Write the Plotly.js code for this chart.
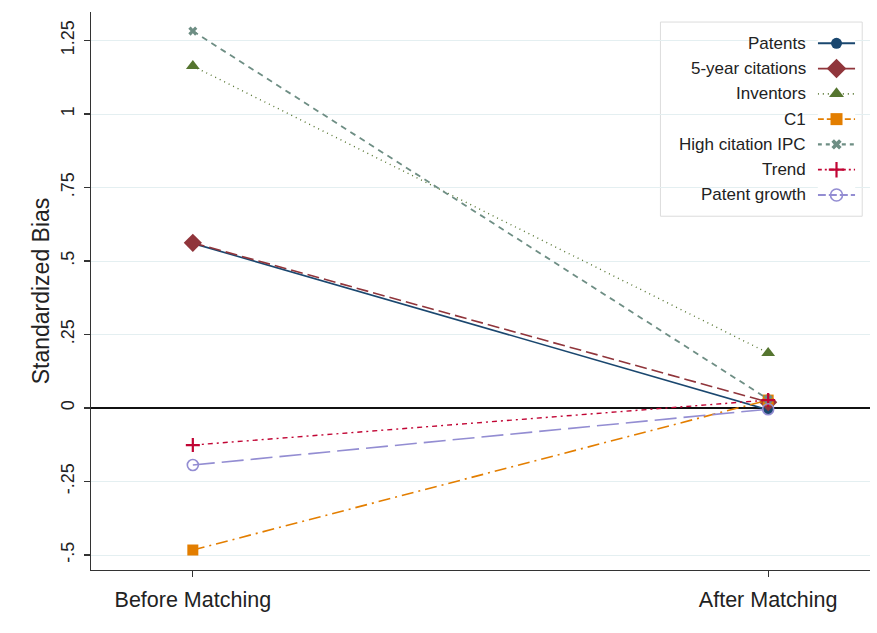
<!DOCTYPE html>
<html>
<head>
<meta charset="utf-8">
<script src="https://cdn.plot.ly/plotly-3.0.1.min.js"></script>
<style>html,body{margin:0;padding:0;background:#fff;}#chart{width:877px;height:633px;}</style>
</head>
<body>
<div id="chart"></div>
<script>
// ---- data ----
var categories = ["Before Matching", "After Matching"];
var seriesNames = ["Patents", "5-year citations", "Inventors", "C1", "High citation IPC", "Trend", "Patent growth"];
var patents = [0.56, -0.006];
var citations5 = [0.562, 0.02];
var inventors = [1.163, 0.187];
var c1 = [-0.483, 0.027];
var highCitationIPC = [1.282, 0.03];
var trend = [-0.126, 0.027];
var patentGrowth = [-0.194, -0.004];
var yTickVals = [-0.5, -0.25, 0, 0.25, 0.5, 0.75, 1, 1.25];
var yTickText = ["-.5", "-.25", "0", ".25", ".5", ".75", "1", "1.25"];

// ---- styles ----
var seriesValues = [patents, citations5, inventors, c1, highCitationIPC, trend, patentGrowth];
var styles = [
  {color: "#1a476f", dash: "solid", sym: "circle", size: 10, lw: 1.6},
  {color: "#90353b", dash: "12px,5px", sym: "diamond", size: 14, lw: 1.6},
  {color: "#55752f", dash: "1px,4px", sym: "triangle-up", size: 12, lw: 1.4},
  {color: "#e37e00", dash: "12px,5px,2px,5px", sym: "square", size: 11, lw: 1.6},
  {color: "#6e8e84", dash: "6px,5px", sym: "x", size: 8, lw: 1.8},
  {color: "#c10534", dash: "5px,4px,2px,4px", sym: "cross-thin-open", size: 10, lw: 1.4, mlw: 2.2},
  {color: "#938dd2", dash: "22px,7px", sym: "circle-open", size: 11, lw: 1.6, mlw: 1.6}
];
var legendDash = ["solid", "solid", "1px,4px", "6px,3px", "4px,4px", "4px,3px,2px,3px", "8px,3px"];

var traces = [];
seriesNames.forEach(function (name, i) {
  var s = styles[i];
  traces.push({
    type: "scatter", mode: "lines+markers", name: name,
    x: categories, y: seriesValues[i],
    line: {color: s.color, width: s.lw, dash: s.dash},
    marker: {color: s.color, symbol: s.sym, size: s.size, line: {color: s.color, width: s.mlw || 0}},
    showlegend: false, cliponaxis: false
  });
});

// custom legend (symbol to the right of right-aligned text, Stata style)
var annotations = [];
seriesNames.forEach(function (name, i) {
  var s = styles[i];
  traces.push({
    type: "scatter", mode: "lines", xaxis: "x2", yaxis: "y2",
    x: [0, 1], y: [i, i], hoverinfo: "skip", showlegend: false,
    line: {color: s.color, width: s.lw + 0.3, dash: legendDash[i]}, cliponaxis: false
  });
  traces.push({
    type: "scatter", mode: "markers", xaxis: "x2", yaxis: "y2",
    x: [0.5], y: [i], hoverinfo: "skip", showlegend: false,
    marker: {color: s.color, symbol: s.sym, size: s.size + 1, line: {color: s.color, width: s.mlw || 0}},
    cliponaxis: false
  });
  annotations.push({
    xref: "paper", yref: "y2", x: 0.92, y: i, text: name, showarrow: false,
    xanchor: "right", yanchor: "middle",
    font: {family: "Liberation Sans, Arial, sans-serif", size: 17, color: "#222"}
  });
});

var layout = {
  width: 877, height: 633,
  margin: {l: 91, r: 7, t: 12, b: 63},
  paper_bgcolor: "#ffffff", plot_bgcolor: "#ffffff",
  font: {family: "Liberation Sans, Arial, sans-serif", color: "#222"},
  showlegend: false,
  xaxis: {
    type: "category", range: [-0.177, 1.177],
    showgrid: false, zeroline: false,
    showline: true, linecolor: "#333", linewidth: 1.2,
    ticks: "outside", ticklen: 6, tickcolor: "#333", tickwidth: 1.2,
    tickfont: {size: 21.5, color: "#222"}, ticklabelstandoff: 4
  },
  yaxis: {
    range: [-0.551, 1.347],
    tickvals: yTickVals, ticktext: yTickText, tickangle: -90,
    showgrid: true, gridcolor: "#e4eff1", gridwidth: 1,
    zeroline: true, zerolinecolor: "#111", zerolinewidth: 2.8,
    showline: true, linecolor: "#333", linewidth: 1.2,
    ticks: "outside", ticklen: 6, tickcolor: "#333", tickwidth: 1.2,
    tickfont: {size: 18, color: "#222"}, ticklabelstandoff: 3,
    title: {text: "Standardized Bias", font: {size: 23, color: "#222"}, standoff: 1}
  },
  xaxis2: {domain: [0.933, 0.981], range: [0, 1], visible: false, fixedrange: true},
  yaxis2: {domain: [0.654, 0.962], range: [6.4, -0.4], visible: false, fixedrange: true},
  shapes: [{
    type: "rect", xref: "paper", yref: "paper", x0: 0.731, x1: 0.990, y0: 0.634, y1: 0.982,
    line: {color: "#dcdcdc", width: 1}, fillcolor: "rgba(255,255,255,1)", layer: "below"
  }],
  annotations: annotations
};

Plotly.newPlot("chart", traces, layout, {displayModeBar: false, staticPlot: true});
</script>
</body>
</html>
